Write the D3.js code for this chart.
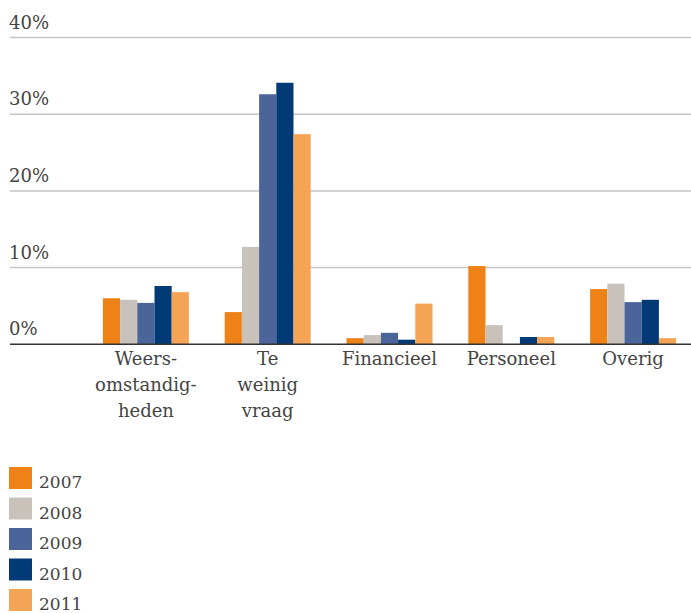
<!DOCTYPE html>
<html>
<head>
<meta charset="utf-8">
<script src="https://cdn.jsdelivr.net/npm/d3@7"></script>
<style>
    body { margin: 0; background: #fff; }
    svg text { font-family: "DejaVu Serif", serif; fill: #444; }
</style>
</head>
<body>
<svg id="chart" width="691" height="613"></svg>
<script>
var categories = [["Weers-", "omstandig-", "heden"], ["Te", "weinig", "vraag"], ["Financieel"], ["Personeel"], ["Overig"]];
var years = ["2007", "2008", "2009", "2010", "2011"];
var yearColors = ["#ee8217", "#c8c2bb", "#4b6499", "#023a78", "#f5a455"];

// percentages per category, one array per year
var values2007 = [6.0, 4.2, 0.8, 10.2, 7.2];
var values2008 = [5.8, 12.7, 1.2, 2.5, 7.9];
var values2009 = [5.4, 32.6, 1.5, 0, 5.5];
var values2010 = [7.6, 34.1, 0.6, 0.95, 5.8];
var values2011 = [6.8, 27.4, 5.3, 0.95, 0.8];
var yTicks = [0, 10, 20, 30, 40];

var series = [values2007, values2008, values2009, values2010, values2011];

var svg = d3.select("#chart");

var x0 = d3.scaleBand()
    .domain(d3.range(categories.length))
    .range([85, 694])
    .paddingInner(0.294)
    .paddingOuter(0.147);

var x1 = d3.scaleBand()
    .domain(d3.range(years.length))
    .range([0, x0.bandwidth()]);

var y = d3.scaleLinear()
    .domain([0, 40])
    .range([344.3, 37.5]);

// gridlines + labels (label sits above its line)
var grid = svg.append("g")
    .selectAll("g")
    .data(yTicks)
    .join("g")
    .attr("transform", function(d) { return "translate(0," + y(d) + ")"; });

grid.filter(function(d) { return d > 0; })
    .append("line")
    .attr("x1", 10)
    .attr("x2", 691)
    .attr("stroke", "#c6c6c6")
    .attr("stroke-width", 1.5);

grid.append("text")
    .attr("x", 9)
    .attr("y", -9)
    .attr("font-size", 18)
    .text(function(d) { return d + "%"; });

// bars
svg.append("g")
    .selectAll("g")
    .data(series)
    .join("g")
    .attr("fill", function(d, i) { return yearColors[i]; })
    .each(function(vals, si) {
        d3.select(this).selectAll("rect")
            .data(vals)
            .join("rect")
            .attr("x", function(v, ci) { return x0(ci) + x1(si); })
            .attr("width", x1.bandwidth())
            .attr("y", function(v) { return y(v); })
            .attr("height", function(v) { return y(0) - y(v); });
    });

// baseline
svg.append("line")
    .attr("x1", 10)
    .attr("x2", 691)
    .attr("y1", y(0))
    .attr("y2", y(0))
    .attr("stroke", "#333")
    .attr("stroke-width", 1.5);

// category labels
svg.append("g")
    .selectAll("text")
    .data(categories)
    .join("text")
    .attr("text-anchor", "middle")
    .attr("font-size", 18)
    .attr("x", function(d, i) { return x0(i) + x0.bandwidth() / 2; })
    .attr("y", 365)
    .selectAll("tspan")
    .data(function(d) { return d; })
    .join("tspan")
    .attr("x", function() { return d3.select(this.parentNode).attr("x"); })
    .attr("dy", function(d, i) { return i === 0 ? 0 : 26; })
    .text(function(d) { return d; });

// legend
var legend = svg.append("g")
    .selectAll("g")
    .data(years)
    .join("g")
    .attr("transform", function(d, i) { return "translate(9," + (467 + i * 30.5) + ")"; });

legend.append("rect")
    .attr("width", 23)
    .attr("height", 22)
    .attr("fill", function(d, i) { return yearColors[i]; });

legend.append("text")
    .attr("x", 30)
    .attr("y", 21)
    .attr("font-size", 17)
    .text(function(d) { return d; });
</script>
</body>
</html>
